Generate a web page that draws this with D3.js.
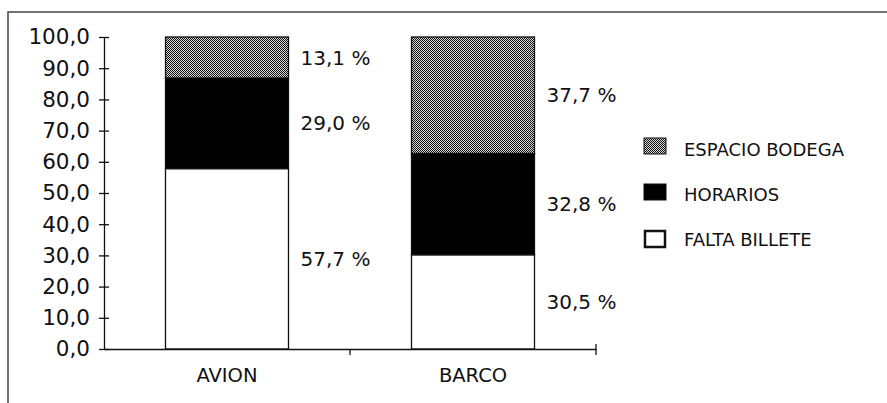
<!DOCTYPE html>
<html><head><meta charset="utf-8">
<script src="https://cdn.jsdelivr.net/npm/d3@7"></script>
<style>html,body{margin:0;padding:0;background:#fff;}svg{display:block;}</style>
</head><body>
<svg id="c" width="887" height="403"></svg>
<script>
const categories = ["AVION", "BARCO"];
const seriesNames = ["FALTA BILLETE", "HORARIOS", "ESPACIO BODEGA"];
const faltaBillete = [57.7, 30.5];
const horarios = [29.0, 32.8];
const espacioBodega = [13.1, 37.7];
const yTicks = [0, 10, 20, 30, 40, 50, 60, 70, 80, 90, 100];

const data = categories.map((c, i) => ({
  cat: c,
  "FALTA BILLETE": faltaBillete[i],
  "HORARIOS": horarios[i],
  "ESPACIO BODEGA": espacioBodega[i]
}));

const svg = d3.select("#c");
const font = "DejaVu Sans, sans-serif";
const ink = "#111";

// pattern for ESPACIO BODEGA
const defs = svg.append("defs");
const pat = defs.append("pattern").attr("id", "chk").attr("patternUnits", "userSpaceOnUse")
  .attr("width", 2).attr("height", 2);
pat.append("rect").attr("width", 2).attr("height", 2).attr("fill", "#d8d8d8");
pat.append("rect").attr("x", 0).attr("y", 0).attr("width", 1).attr("height", 1).attr("fill", "#111");
pat.append("rect").attr("x", 1).attr("y", 1).attr("width", 1).attr("height", 1).attr("fill", "#111");

const fills = {"FALTA BILLETE": "#fff", "HORARIOS": "#000", "ESPACIO BODEGA": "url(#chk)"};

// frame (top + left)
svg.append("path").attr("d", "M8,403 L8,12 L887,12").attr("fill", "none")
  .attr("stroke", "#444").attr("stroke-width", 1.5);

const x = d3.scaleBand().domain(categories).range([104, 596]).paddingInner(0.5).paddingOuter(0.25);
const y = d3.scaleLinear().domain([0, 100]).range([349, 37]);

const stack = d3.stack().keys(seriesNames).offset(d3.stackOffsetExpand);
const series = stack(data);

// bars
const g = svg.append("g");
series.forEach(s => {
  g.selectAll(null).data(s).enter().append("rect")
    .attr("x", d => x(d.data.cat))
    .attr("width", x.bandwidth())
    .attr("y", d => y(d[1] * 100))
    .attr("height", d => y(d[0] * 100) - y(d[1] * 100))
    .attr("fill", fills[s.key])
    .attr("stroke", ink).attr("stroke-width", 1.3);
});

// value labels
series.forEach(s => {
  g.selectAll(null).data(s).enter().append("text")
    .attr("x", d => x(d.data.cat) + x.bandwidth() + 12)
    .attr("y", d => y((d[0] + d[1]) / 2 * 100))
    .attr("dy", "0.36em")
    .attr("font-family", font).attr("font-size", 20).attr("fill", ink)
    .text(d => d3.format(".1f")(d.data[s.key]).replace(".", ",") + " %");
});

// y axis
const yAxis = d3.axisLeft(y).tickValues(yTicks).tickSize(0).tickPadding(0)
  .tickFormat(v => d3.format(".1f")(v).replace(".", ","));
const ya = svg.append("g").attr("transform", "translate(104,0)").call(yAxis);
ya.select(".domain").attr("stroke", ink).attr("stroke-width", 1.3);
ya.selectAll(".tick line").attr("x1", -5).attr("x2", 5).attr("stroke", ink).attr("stroke-width", 1.3);
ya.selectAll(".tick text").attr("x", -14).attr("font-family", font).attr("font-size", 21.5).attr("fill", ink);

// x axis
const xAxis = d3.axisBottom(x).tickSize(0).tickPadding(0);
const xa = svg.append("g").attr("transform", "translate(0,349)").call(xAxis);
xa.select(".domain").attr("stroke", ink).attr("stroke-width", 1.3);
xa.selectAll(".tick line").remove();
xa.selectAll(".tick text").attr("y", 33).attr("dy", 0).attr("font-family", font).attr("font-size", 19.5).attr("fill", ink);
// boundary ticks between categories
const bounds = [x.range()[0] + x.step() * 1, x.range()[1]];
xa.selectAll(".bt").data(bounds).enter().append("line")
  .attr("x1", d => d).attr("x2", d => d)
  .attr("y1", (d, i) => i === 1 ? -5 : 0).attr("y2", 6)
  .attr("stroke", ink).attr("stroke-width", 1.3);

// legend
const legendOrder = ["ESPACIO BODEGA", "HORARIOS", "FALTA BILLETE"];
const lg = svg.append("g");
const ly = d3.scalePoint().domain(legendOrder).range([150, 240]);
const swOff = {"ESPACIO BODEGA": -4, "HORARIOS": -3, "FALTA BILLETE": -1};
legendOrder.forEach(k => {
  const yy = ly(k);
  const big = k === "FALTA BILLETE";
  lg.append("rect").attr("x", big ? 645 : 644).attr("y", yy + swOff[k] - 8)
    .attr("width", big ? 20 : 22).attr("height", 16)
    .attr("fill", fills[k]).attr("stroke", ink).attr("stroke-width", big ? 2.5 : 1);
  lg.append("text").attr("x", 684).attr("y", yy).attr("dy", "0.36em")
    .attr("font-family", font).attr("font-size", 18).attr("fill", ink).text(k);
});
</script>
</body></html>
